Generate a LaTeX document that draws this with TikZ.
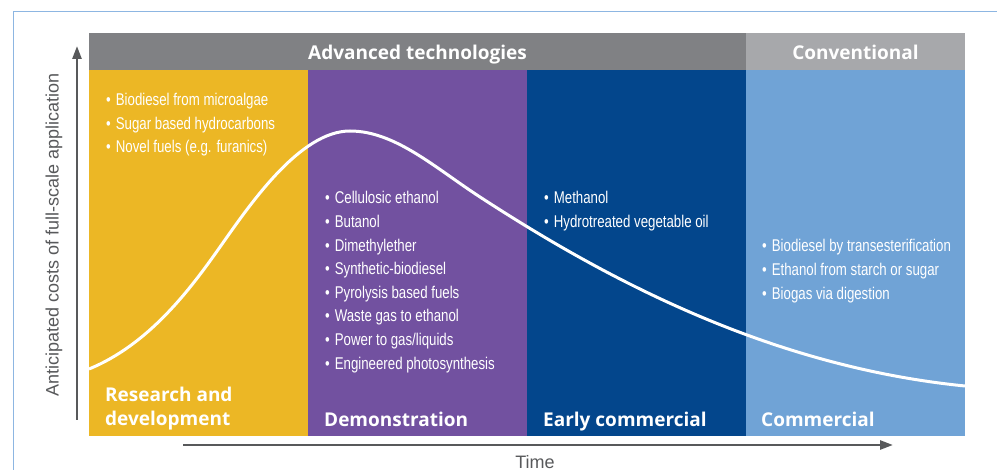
\documentclass[tikz,border=0pt]{standalone}
\usepackage{fontspec}
\setmainfont{Liberation Sans}
\newfontfamily\narrowfont[FakeStretch=0.78]{Liberation Sans}
\newfontfamily\headfont{Open Sans}
\usetikzlibrary{arrows.meta}

\definecolor{rdyellow}{HTML}{ECB725}
\definecolor{demopurple}{HTML}{7251A0}
\definecolor{earlyblue}{HTML}{03468C}
\definecolor{commblue}{HTML}{70A3D6}
\definecolor{advgray}{HTML}{808184}
\definecolor{convgray}{HTML}{A7A8AB}
\definecolor{axisgray}{HTML}{58595B}
\definecolor{frameblue}{HTML}{8DB6E2}

\tikzset{
  band/.style={inner sep=0pt, anchor=base, text=white,
    font=\headfont\bfseries\fontsize{19}{23}\selectfont},
  stage/.style={inner sep=0pt, anchor=base west, text=white, align=left,
    font=\headfont\bfseries\fontsize{19}{24}\selectfont},
  item/.style={inner sep=0pt, anchor=base west, text=white,
    font=\narrowfont\fontsize{17}{20}\selectfont},
  axis/.style={draw=axisgray, line width=2.6pt, -{Triangle[length=13pt,width=9pt]}},
  axislabel/.style={inner sep=0pt, text=axisgray, font=\fontsize{18}{21}\selectfont}
}

\begin{document}
\begin{tikzpicture}[x=1pt,y=-1pt]
    \useasboundingbox (0,0) rectangle (997,470);
    % frame
    \draw[frameblue, line width=1pt] (13,470) -- (13,12) -- (997,12);
    % header bands
    \fill[advgray] (89,33) rectangle (746,70);
    \fill[convgray] (746,33) rectangle (965,70);
    \node[band] (adv) at (417.5,60) {Advanced technologies};
    \node[band] (conv) at (855.5,60) {Conventional};
    % stages
    \fill[rdyellow] (89,70) rectangle (308,436);
    \fill[demopurple] (308,70) rectangle (527,436);
    \fill[earlyblue] (527,70) rectangle (746,436);
    \fill[commblue] (746,70) rectangle (965,436);
    % cost curve
    \draw[white, line width=3pt] (89,369) .. controls (149,344.4) and (190,289.6) .. (220,247)
        .. controls (250,204.4) and (300,131) .. (350,131)
        .. controls (395,131) and (435,167.75) .. (480,197)
        .. controls (600,275) and (765,366) .. (965,386);
    % fuel lists
    \foreach \txt [count=\i] in {{Biodiesel from microalgae}, {Sugar based hydrocarbons},
        {Novel fuels (e.g. furanics)}}
        \node[item] (rd-\i) at (106,106+23.5*\i-23.5) {•\hspace{5pt}\txt};
    \foreach \txt [count=\i] in {{Cellulosic ethanol}, {Butanol}, {Dimethylether},
        {Synthetic-biodiesel}, {Pyrolysis based fuels}, {Waste gas to ethanol},
        {Power to gas/liquids}, {Engineered photosynthesis}}
        \node[item] (demo-\i) at (325,204+23.6*\i-23.6) {•\hspace{5pt}\txt};
    \foreach \txt [count=\i] in {{Methanol}, {Hydrotreated vegetable oil}}
        \node[item] (early-\i) at (544,204+23.6*\i-23.6) {•\hspace{5pt}\txt};
    \foreach \txt [count=\i] in {{Biodiesel by transesterification},
        {Ethanol from starch or sugar}, {Biogas via digestion}}
        \node[item] (comm-\i) at (762,252+23.6*\i-23.6) {•\hspace{5pt}\txt};
    % stage names
    \node[stage] (rd) at (105,426) {Research and\\development};
    \node[stage] (demo) at (324,427) {Demonstration};
    \node[stage] (early) at (543,427) {Early commercial};
    \node[stage] (comm) at (761,427) {Commercial};
    % axes
    \coordinate (yfoot) at (77,420);
    \coordinate (ytop) at (77,46);
    \coordinate (xfoot) at (183,445);
    \coordinate (xend) at (893,445);
    \draw[axis] (yfoot) -- (ytop);
    \draw[axis] (xfoot) -- (xend);
    \node[axislabel, rotate=90] (cost) at (54,235) {Anticipated costs of full-scale application};
    \node[axislabel, anchor=base] (time) at (535,468) {Time};
\end{tikzpicture}
\end{document}
